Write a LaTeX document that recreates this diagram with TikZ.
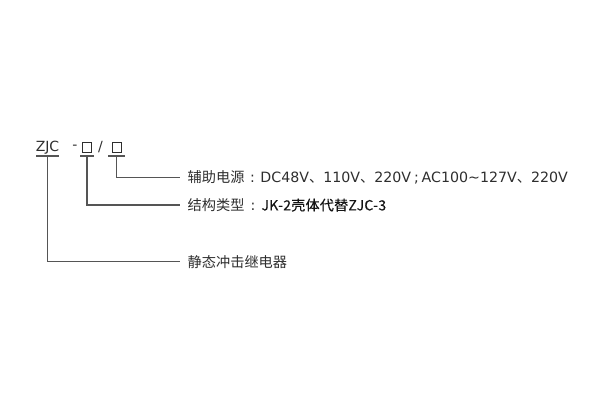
\documentclass[tikz,border=0pt]{standalone}
\usepackage{fontspec}
\setmainfont{Noto Sans CJK SC}
\newfontfamily\latin{DejaVu Sans}
\usetikzlibrary{positioning}

\definecolor{txt}{HTML}{2E2E2E}
\definecolor{ink}{HTML}{141414}
\definecolor{wire}{HTML}{555555}

% latin part of a label, and a spaced stop
\newcommand{\lat}[1]{{\latin #1}}
\newcommand{\punct}[2]{\makebox[#1]{\latin #2}}
\newcommand{\narrow}[1]{{\addfontfeature{LetterSpace=2,FakeBold=0.3}#1}}

\begin{document}
\begin{tikzpicture}[x=1pt,y=-1pt]
    \tikzstyle{code} = [inner sep=0pt, text=txt, font=\latin\fontsize{14}{16}\selectfont]
    \tikzstyle{blank} = [draw=txt, line width=0.8pt, minimum width=9.5pt, minimum height=10pt, inner sep=0pt]
    \tikzstyle{desc} = [anchor=west, inner xsep=7.5pt, inner ysep=0pt, text=txt, font=\fontsize{14.2}{17}\selectfont]
    \tikzstyle{lead} = [line width=1.1pt, wire]

    \useasboundingbox (0,0) rectangle (600,400);

    \node (zjc) [code] at (47.5,147.5) {ZJC};
    \node (dash) [code] at (75,147.5) {-};
    \node (box1) [blank] at (87,147.3) {};
    \node (slash) [code] at (100.5,147.5) {/};
    \node (box2) [blank] at (116.7,147.3) {};

    \node (power) [desc] at (180,177.3) {辅助电源\punct{16pt}{:}\lat{DC48V}、\lat{110V}、\lat{220V}\punct{10.5pt}{;}\lat{AC100\textasciitilde127V}、\lat{220V}};
    \node (type) [desc] at (180,205) {结构类型\punct{17pt}{:}{\color{ink}\fontsize{14}{16}\selectfont\narrow{JK-2壳体代替ZJC-3}}};
    \node (relay) [desc] at (180,261.7) {静态冲击继电器};

    % underlines of the code
    \coordinate (u0) at (47.6,156);
    \coordinate (u1) at (box1.south |- u0);
    \coordinate (u2) at (box2.south |- u0);
    \draw [lead] ([xshift=-11.5pt]u0) -- ([xshift=11.5pt]u0);
    \draw [lead] ([xshift=-7pt]u1) -- ([xshift=7pt]u1);
    \draw [lead] ([xshift=-8.5pt]u2) -- ([xshift=8.5pt]u2);

    \draw [lead] (u0) |- (relay.west);
    \draw [lead] (u1) |- (type.west);
    \draw [lead] (u2) |- (power.west);
\end{tikzpicture}
\end{document}
